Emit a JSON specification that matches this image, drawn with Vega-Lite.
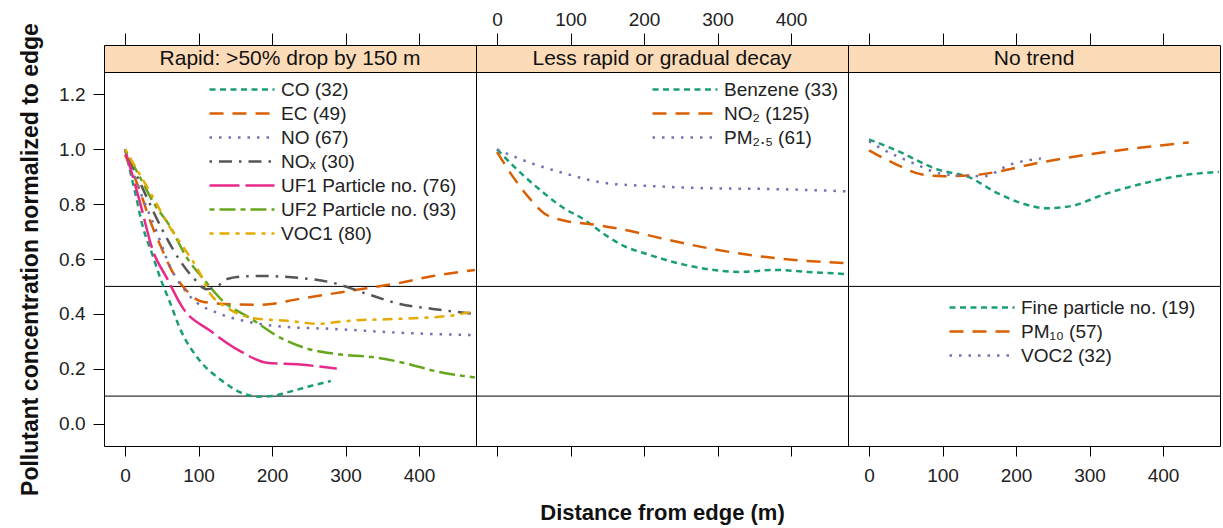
{
"$schema": "https://vega.github.io/schema/vega-lite/v6.json",
"padding": {"left": 19, "top": 9, "right": 2, "bottom": 4},
"background": "white",
"config": {
  "font": "Liberation Sans",
  "view": {"stroke": "black", "strokeWidth": 1},
  "axis": {"domain": false, "grid": false, "tickColor": "black", "tickWidth": 1, "labelFontSize": 19, "labelColor": "#222", "labelFont": "Liberation Sans", "titleColor": "#111", "titleFont": "Liberation Sans"},
  "concat": {"spacing": 0}
},
"datasets": {
  "d": [
    {"panel":1,"series":"CO (32)","x":0,"y":1.0},{"panel":1,"series":"CO (32)","x":7,"y":0.92},{"panel":1,"series":"CO (32)","x":14,"y":0.84},{"panel":1,"series":"CO (32)","x":24,"y":0.72},{"panel":1,"series":"CO (32)","x":38,"y":0.61},{"panel":1,"series":"CO (32)","x":48,"y":0.53},{"panel":1,"series":"CO (32)","x":60,"y":0.45},{"panel":1,"series":"CO (32)","x":75,"y":0.345},{"panel":1,"series":"CO (32)","x":100,"y":0.235},{"panel":1,"series":"CO (32)","x":130,"y":0.16},{"panel":1,"series":"CO (32)","x":160,"y":0.11},{"panel":1,"series":"CO (32)","x":180,"y":0.098},{"panel":1,"series":"CO (32)","x":200,"y":0.1},{"panel":1,"series":"CO (32)","x":220,"y":0.113},{"panel":1,"series":"CO (32)","x":250,"y":0.135},{"panel":1,"series":"CO (32)","x":280,"y":0.155},
    {"panel":1,"series":"EC (49)","x":0,"y":0.98},{"panel":1,"series":"EC (49)","x":20,"y":0.85},{"panel":1,"series":"EC (49)","x":34,"y":0.74},{"panel":1,"series":"EC (49)","x":48,"y":0.65},{"panel":1,"series":"EC (49)","x":64,"y":0.556},{"panel":1,"series":"EC (49)","x":84,"y":0.484},{"panel":1,"series":"EC (49)","x":102,"y":0.447},{"panel":1,"series":"EC (49)","x":133,"y":0.436},{"panel":1,"series":"EC (49)","x":184,"y":0.433},{"panel":1,"series":"EC (49)","x":238,"y":0.455},{"panel":1,"series":"EC (49)","x":306,"y":0.484},{"panel":1,"series":"EC (49)","x":374,"y":0.513},{"panel":1,"series":"EC (49)","x":419,"y":0.538},{"panel":1,"series":"EC (49)","x":476,"y":0.56},
    {"panel":1,"series":"NO (67)","x":0,"y":1.0},{"panel":1,"series":"NO (67)","x":20,"y":0.85},{"panel":1,"series":"NO (67)","x":43,"y":0.7},{"panel":1,"series":"NO (67)","x":60,"y":0.58},{"panel":1,"series":"NO (67)","x":88,"y":0.465},{"panel":1,"series":"NO (67)","x":129,"y":0.4},{"panel":1,"series":"NO (67)","x":161,"y":0.375},{"panel":1,"series":"NO (67)","x":215,"y":0.353},{"panel":1,"series":"NO (67)","x":283,"y":0.345},{"panel":1,"series":"NO (67)","x":374,"y":0.331},{"panel":1,"series":"NO (67)","x":476,"y":0.322},
    {"panel":1,"series":"NOₓ (30)","x":0,"y":1.0},{"panel":1,"series":"NOₓ (30)","x":27,"y":0.84},{"panel":1,"series":"NOₓ (30)","x":52,"y":0.7},{"panel":1,"series":"NOₓ (30)","x":75,"y":0.593},{"panel":1,"series":"NOₓ (30)","x":93,"y":0.531},{"panel":1,"series":"NOₓ (30)","x":111,"y":0.49},{"panel":1,"series":"NOₓ (30)","x":125,"y":0.5},{"panel":1,"series":"NOₓ (30)","x":139,"y":0.527},{"panel":1,"series":"NOₓ (30)","x":160,"y":0.536},{"panel":1,"series":"NOₓ (30)","x":184,"y":0.538},{"panel":1,"series":"NOₓ (30)","x":238,"y":0.531},{"panel":1,"series":"NOₓ (30)","x":283,"y":0.513},{"panel":1,"series":"NOₓ (30)","x":329,"y":0.473},{"panel":1,"series":"NOₓ (30)","x":374,"y":0.436},{"panel":1,"series":"NOₓ (30)","x":419,"y":0.418},{"panel":1,"series":"NOₓ (30)","x":476,"y":0.4},
    {"panel":1,"series":"UF1 Particle no. (76)","x":0,"y":1.0},{"panel":1,"series":"UF1 Particle no. (76)","x":20,"y":0.81},{"panel":1,"series":"UF1 Particle no. (76)","x":38,"y":0.63},{"panel":1,"series":"UF1 Particle no. (76)","x":57,"y":0.53},{"panel":1,"series":"UF1 Particle no. (76)","x":79,"y":0.42},{"panel":1,"series":"UF1 Particle no. (76)","x":116,"y":0.338},{"panel":1,"series":"UF1 Particle no. (76)","x":156,"y":0.265},{"panel":1,"series":"UF1 Particle no. (76)","x":193,"y":0.222},{"panel":1,"series":"UF1 Particle no. (76)","x":238,"y":0.215},{"panel":1,"series":"UF1 Particle no. (76)","x":288,"y":0.2},
    {"panel":1,"series":"UF2 Particle no. (93)","x":0,"y":1.0},{"panel":1,"series":"UF2 Particle no. (93)","x":20,"y":0.9},{"panel":1,"series":"UF2 Particle no. (93)","x":40,"y":0.8},{"panel":1,"series":"UF2 Particle no. (93)","x":61,"y":0.72},{"panel":1,"series":"UF2 Particle no. (93)","x":84,"y":0.605},{"panel":1,"series":"UF2 Particle no. (93)","x":106,"y":0.53},{"panel":1,"series":"UF2 Particle no. (93)","x":133,"y":0.447},{"panel":1,"series":"UF2 Particle no. (93)","x":170,"y":0.385},{"panel":1,"series":"UF2 Particle no. (93)","x":211,"y":0.313},{"panel":1,"series":"UF2 Particle no. (93)","x":248,"y":0.273},{"panel":1,"series":"UF2 Particle no. (93)","x":283,"y":0.255},{"panel":1,"series":"UF2 Particle no. (93)","x":343,"y":0.24},{"panel":1,"series":"UF2 Particle no. (93)","x":384,"y":0.218},{"panel":1,"series":"UF2 Particle no. (93)","x":419,"y":0.193},{"panel":1,"series":"UF2 Particle no. (93)","x":476,"y":0.168},
    {"panel":1,"series":"VOC1 (80)","x":0,"y":1.0},{"panel":1,"series":"VOC1 (80)","x":38,"y":0.825},{"panel":1,"series":"VOC1 (80)","x":60,"y":0.72},{"panel":1,"series":"VOC1 (80)","x":75,"y":0.66},{"panel":1,"series":"VOC1 (80)","x":98,"y":0.567},{"panel":1,"series":"VOC1 (80)","x":116,"y":0.473},{"panel":1,"series":"VOC1 (80)","x":139,"y":0.422},{"panel":1,"series":"VOC1 (80)","x":180,"y":0.382},{"panel":1,"series":"VOC1 (80)","x":220,"y":0.375},{"panel":1,"series":"VOC1 (80)","x":261,"y":0.364},{"panel":1,"series":"VOC1 (80)","x":306,"y":0.375},{"panel":1,"series":"VOC1 (80)","x":374,"y":0.382},{"panel":1,"series":"VOC1 (80)","x":442,"y":0.393},{"panel":1,"series":"VOC1 (80)","x":476,"y":0.41},
    {"panel":2,"series":"Benzene (33)","x":0,"y":1.0},{"panel":2,"series":"Benzene (33)","x":27,"y":0.927},{"panel":2,"series":"Benzene (33)","x":64,"y":0.84},{"panel":2,"series":"Benzene (33)","x":91,"y":0.785},{"panel":2,"series":"Benzene (33)","x":118,"y":0.745},{"panel":2,"series":"Benzene (33)","x":146,"y":0.69},{"panel":2,"series":"Benzene (33)","x":173,"y":0.647},{"panel":2,"series":"Benzene (33)","x":204,"y":0.618},{"panel":2,"series":"Benzene (33)","x":250,"y":0.582},{"panel":2,"series":"Benzene (33)","x":295,"y":0.56},{"panel":2,"series":"Benzene (33)","x":332,"y":0.553},{"panel":2,"series":"Benzene (33)","x":377,"y":0.56},{"panel":2,"series":"Benzene (33)","x":422,"y":0.553},{"panel":2,"series":"Benzene (33)","x":476,"y":0.545},
    {"panel":2,"series":"NO₂ (125)","x":0,"y":0.99},{"panel":2,"series":"NO₂ (125)","x":23,"y":0.895},{"panel":2,"series":"NO₂ (125)","x":44,"y":0.822},{"panel":2,"series":"NO₂ (125)","x":64,"y":0.767},{"panel":2,"series":"NO₂ (125)","x":95,"y":0.738},{"panel":2,"series":"NO₂ (125)","x":128,"y":0.727},{"panel":2,"series":"NO₂ (125)","x":169,"y":0.709},{"panel":2,"series":"NO₂ (125)","x":223,"y":0.676},{"panel":2,"series":"NO₂ (125)","x":286,"y":0.64},{"panel":2,"series":"NO₂ (125)","x":354,"y":0.611},{"panel":2,"series":"NO₂ (125)","x":422,"y":0.593},{"panel":2,"series":"NO₂ (125)","x":476,"y":0.585},
    {"panel":2,"series":"PM₂.₅ (61)","x":0,"y":1.0},{"panel":2,"series":"PM₂.₅ (61)","x":46,"y":0.95},{"panel":2,"series":"PM₂.₅ (61)","x":91,"y":0.913},{"panel":2,"series":"PM₂.₅ (61)","x":150,"y":0.876},{"panel":2,"series":"PM₂.₅ (61)","x":218,"y":0.865},{"panel":2,"series":"PM₂.₅ (61)","x":286,"y":0.858},{"panel":2,"series":"PM₂.₅ (61)","x":377,"y":0.855},{"panel":2,"series":"PM₂.₅ (61)","x":476,"y":0.847},
    {"panel":3,"series":"Fine particle no. (19)","x":0,"y":1.036},{"panel":3,"series":"Fine particle no. (19)","x":34,"y":1.0},{"panel":3,"series":"Fine particle no. (19)","x":93,"y":0.927},{"panel":3,"series":"Fine particle no. (19)","x":139,"y":0.895},{"panel":3,"series":"Fine particle no. (19)","x":170,"y":0.847},{"panel":3,"series":"Fine particle no. (19)","x":207,"y":0.804},{"panel":3,"series":"Fine particle no. (19)","x":242,"y":0.785},{"panel":3,"series":"Fine particle no. (19)","x":275,"y":0.793},{"panel":3,"series":"Fine particle no. (19)","x":320,"y":0.836},{"panel":3,"series":"Fine particle no. (19)","x":374,"y":0.876},{"panel":3,"series":"Fine particle no. (19)","x":419,"y":0.902},{"panel":3,"series":"Fine particle no. (19)","x":476,"y":0.918},
    {"panel":3,"series":"PM₁₀ (57)","x":0,"y":0.996},{"panel":3,"series":"PM₁₀ (57)","x":34,"y":0.949},{"panel":3,"series":"PM₁₀ (57)","x":71,"y":0.909},{"panel":3,"series":"PM₁₀ (57)","x":102,"y":0.902},{"panel":3,"series":"PM₁₀ (57)","x":139,"y":0.905},{"panel":3,"series":"PM₁₀ (57)","x":170,"y":0.916},{"panel":3,"series":"PM₁₀ (57)","x":220,"y":0.945},{"panel":3,"series":"PM₁₀ (57)","x":283,"y":0.975},{"panel":3,"series":"PM₁₀ (57)","x":351,"y":1.0},{"panel":3,"series":"PM₁₀ (57)","x":435,"y":1.025},
    {"panel":3,"series":"VOC2 (32)","x":0,"y":1.03},{"panel":3,"series":"VOC2 (32)","x":16,"y":1.004},{"panel":3,"series":"VOC2 (32)","x":60,"y":0.95},{"panel":3,"series":"VOC2 (32)","x":102,"y":0.909},{"panel":3,"series":"VOC2 (32)","x":156,"y":0.902},{"panel":3,"series":"VOC2 (32)","x":193,"y":0.945},{"panel":3,"series":"VOC2 (32)","x":234,"y":0.967}
  ],
  "refs": [{"ref": 0.5}, {"ref": 0.1}]
},
"columns": 3,
"spacing": 0,
"bounds": "flush",
"resolve": {"scale": {"color": "independent", "strokeDash": "independent", "x": "independent", "y": "independent"}},
"concat": [
  {
    "width": 372, "height": 27,
    "view": {"fill": "#fcdcb8", "stroke": "black", "strokeWidth": 1},
    "data": {"values": [{"label": "Rapid: >50% drop by 150 m"}]},
    "mark": {"type": "text", "fontSize": 21, "color": "#111", "font": "Liberation Sans"},
    "encoding": {
      "text": {"field": "label"},
      "x": {"datum": 224.5, "type": "quantitative", "scale": {"domain": [-28.6, 477.5], "nice": false, "zero": false},
            "axis": {"orient": "top", "values": [0,100,200,300,400], "labels": false, "tickSize": 12, "title": null}}
    }
  },
  {
    "width": 372, "height": 27,
    "view": {"fill": "#fcdcb8", "stroke": "black", "strokeWidth": 1},
    "data": {"values": [{"label": "Less rapid or gradual decay"}]},
    "mark": {"type": "text", "fontSize": 21, "color": "#111", "font": "Liberation Sans"},
    "encoding": {
      "text": {"field": "label"},
      "x": {"datum": 224.5, "type": "quantitative", "scale": {"domain": [-28.6, 477.5], "nice": false, "zero": false},
            "axis": {"orient": "top", "values": [0,100,200,300,400], "labels": true, "tickSize": 12, "labelPadding": 4, "title": null}}
    }
  },
  {
    "width": 372, "height": 27,
    "view": {"fill": "#fcdcb8", "stroke": "black", "strokeWidth": 1},
    "data": {"values": [{"label": "No trend"}]},
    "mark": {"type": "text", "fontSize": 21, "color": "#111", "font": "Liberation Sans"},
    "encoding": {
      "text": {"field": "label"},
      "x": {"datum": 224.5, "type": "quantitative", "scale": {"domain": [-28.6, 477.5], "nice": false, "zero": false},
            "axis": {"orient": "top", "values": [0,100,200,300,400], "labels": false, "tickSize": 12, "title": null}}
    }
  },
  {
    "width": 372, "height": 374,
    "layer": [
      {
        "data": {"name": "refs"},
        "mark": {"type": "rule", "color": "black", "strokeWidth": 1},
        "encoding": {"y": {"field": "ref", "type": "quantitative", "scale": {"domain": [-0.082, 1.282], "nice": false, "zero": false},
          "axis": {"orient": "left", "values": [0,0.2,0.4,0.6,0.8,1,1.2], "format": ".1f", "tickSize": 11, "labelPadding": 8, "title": "Pollutant concentration normalized to edge", "titleFontSize": 23, "titleFontWeight": "bold", "titlePadding": 16}}}
      },
      {
        "data": {"name": "d"},
        "transform": [{"filter": "datum.panel == 1"}],
        "mark": {"type": "line", "interpolate": "monotone", "strokeWidth": 2.5, "clip": true},
        "encoding": {
          "x": {"field": "x", "type": "quantitative", "scale": {"domain": [-28.6, 477.5], "nice": false, "zero": false},
                "axis": {"orient": "bottom", "values": [0,100,200,300,400], "tickSize": 10, "labelPadding": 10, "title": null}},
          "y": {"field": "y", "type": "quantitative", "scale": {"domain": [-0.082, 1.282], "nice": false, "zero": false},
                "axis": {"orient": "left", "values": [0,0.2,0.4,0.6,0.8,1,1.2], "format": ".1f", "tickSize": 11, "labelPadding": 8, "title": "Pollutant concentration normalized to edge", "titleFontSize": 23, "titleFontWeight": "bold", "titlePadding": 16}},
          "color": {"field": "series", "type": "nominal",
            "scale": {"domain": ["CO (32)","EC (49)","NO (67)","NOₓ (30)","UF1 Particle no. (76)","UF2 Particle no. (93)","VOC1 (80)"],
                      "range": ["#1b9e77","#d95f02","#7570b3","#555555","#e7298a","#66a61e","#e6ab02"]},
            "legend": {"orient": "none", "legendX": 104, "legendY": 6, "title": null, "symbolType": "M-1,0H5.5", "symbolSize": 400, "symbolStrokeWidth": 2.5, "labelFontSize": 19, "labelOffset": 50, "rowPadding": 2, "labelColor": "#222", "padding": 0, "labelLimit": 400}},
          "strokeDash": {"field": "series", "type": "nominal",
            "scale": {"domain": ["CO (32)","EC (49)","NO (67)","NOₓ (30)","UF1 Particle no. (76)","UF2 Particle no. (93)","VOC1 (80)"],
                      "range": [[6,4.5],[14,9],[2.5,7],[2.5,7,13,7],[30,6],[5,5,16,5],[4,6,10,6]]},
            "legend": {"orient": "none", "legendX": 104, "legendY": 6, "title": null, "symbolType": "M-1,0H5.5", "symbolSize": 400, "symbolStrokeWidth": 2.5, "labelFontSize": 19, "labelOffset": 50, "rowPadding": 2, "labelColor": "#222", "padding": 0, "labelLimit": 400}}
        }
      }
    ]
  },
  {
    "width": 372, "height": 374,
    "layer": [
      {
        "data": {"name": "refs"},
        "mark": {"type": "rule", "color": "black", "strokeWidth": 1},
        "encoding": {"y": {"field": "ref", "type": "quantitative", "scale": {"domain": [-0.082, 1.282], "nice": false, "zero": false}, "axis": null}}
      },
      {
        "data": {"name": "d"},
        "transform": [{"filter": "datum.panel == 2"}],
        "mark": {"type": "line", "interpolate": "monotone", "strokeWidth": 2.5, "clip": true},
        "encoding": {
          "x": {"field": "x", "type": "quantitative", "scale": {"domain": [-28.6, 477.5], "nice": false, "zero": false},
                "axis": {"orient": "bottom", "values": [0,100,200,300,400], "tickSize": 10, "labels": false, "title": "Distance from edge (m)", "titleFontSize": 22, "titleFontWeight": "bold", "titlePadding": 46}},
          "y": {"field": "y", "type": "quantitative", "scale": {"domain": [-0.082, 1.282], "nice": false, "zero": false}, "axis": null},
          "color": {"field": "series", "type": "nominal",
            "scale": {"domain": ["Benzene (33)","NO₂ (125)","PM₂.₅ (61)"], "range": ["#1b9e77","#d95f02","#7570b3"]},
            "legend": {"orient": "none", "legendX": 175, "legendY": 6, "title": null, "symbolType": "M-1,0H5.5", "symbolSize": 400, "symbolStrokeWidth": 2.5, "labelFontSize": 19, "labelOffset": 50, "rowPadding": 2, "labelColor": "#222", "padding": 0, "labelLimit": 400}},
          "strokeDash": {"field": "series", "type": "nominal",
            "scale": {"domain": ["Benzene (33)","NO₂ (125)","PM₂.₅ (61)"], "range": [[6,4.5],[14,9],[2.5,7]]},
            "legend": {"orient": "none", "legendX": 175, "legendY": 6, "title": null, "symbolType": "M-1,0H5.5", "symbolSize": 400, "symbolStrokeWidth": 2.5, "labelFontSize": 19, "labelOffset": 50, "rowPadding": 2, "labelColor": "#222", "padding": 0, "labelLimit": 400}}
        }
      }
    ]
  },
  {
    "width": 372, "height": 374,
    "layer": [
      {
        "data": {"name": "refs"},
        "mark": {"type": "rule", "color": "black", "strokeWidth": 1},
        "encoding": {"y": {"field": "ref", "type": "quantitative", "scale": {"domain": [-0.082, 1.282], "nice": false, "zero": false}, "axis": null}}
      },
      {
        "data": {"name": "d"},
        "transform": [{"filter": "datum.panel == 3"}],
        "mark": {"type": "line", "interpolate": "monotone", "strokeWidth": 2.5, "clip": true},
        "encoding": {
          "x": {"field": "x", "type": "quantitative", "scale": {"domain": [-28.6, 477.5], "nice": false, "zero": false},
                "axis": {"orient": "bottom", "values": [0,100,200,300,400], "tickSize": 10, "labelPadding": 10, "title": null}},
          "y": {"field": "y", "type": "quantitative", "scale": {"domain": [-0.082, 1.282], "nice": false, "zero": false}, "axis": null},
          "color": {"field": "series", "type": "nominal",
            "scale": {"domain": ["Fine particle no. (19)","PM₁₀ (57)","VOC2 (32)"], "range": ["#1b9e77","#d95f02","#7570b3"]},
            "legend": {"orient": "none", "legendX": 100, "legendY": 224, "title": null, "symbolType": "M-1,0H5.5", "symbolSize": 400, "symbolStrokeWidth": 2.5, "labelFontSize": 19, "labelOffset": 50, "rowPadding": 2, "labelColor": "#222", "padding": 0, "labelLimit": 400}},
          "strokeDash": {"field": "series", "type": "nominal",
            "scale": {"domain": ["Fine particle no. (19)","PM₁₀ (57)","VOC2 (32)"], "range": [[6,4.5],[14,9],[2.5,7]]},
            "legend": {"orient": "none", "legendX": 100, "legendY": 224, "title": null, "symbolType": "M-1,0H5.5", "symbolSize": 400, "symbolStrokeWidth": 2.5, "labelFontSize": 19, "labelOffset": 50, "rowPadding": 2, "labelColor": "#222", "padding": 0, "labelLimit": 400}}
        }
      }
    ]
  }
]
}
